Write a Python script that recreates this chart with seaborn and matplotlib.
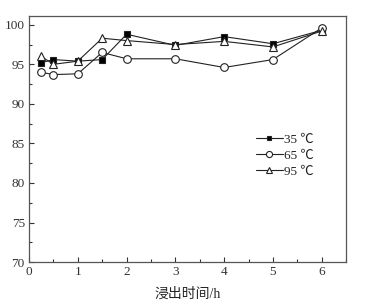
import matplotlib
matplotlib.use("Agg")
import matplotlib.pyplot as plt
import seaborn as sns
import pandas as pd
from matplotlib.ticker import MultipleLocator

times = [0.25, 0.5, 1, 1.5, 2, 3, 4, 5, 6]
t35 = [95.2, 95.6, 95.4, 95.6, 98.8, 97.4, 98.5, 97.6, 99.3]
t65 = [94.0, 93.7, 93.8, 96.5, 95.7, 95.7, 94.6, 95.6, 99.6]
t95 = [96.0, 95.0, 95.4, 98.3, 98.0, 97.5, 97.9, 97.2, 99.2]
labels = ["35 ℃", "65 ℃", "95 ℃"]
xlabel = "浸出时间/h"

sns.set_theme(style="ticks")
plt.rcParams['font.family'] = ['Liberation Serif', 'Noto Sans CJK SC', 'DejaVu Sans']

fig = plt.figure(figsize=(3.77, 3.03), dpi=100)
ax = fig.add_axes([0.077, 0.135, 0.841, 0.812])

series = [(t35, labels[0], 's', 'black', 3.8),
          (t65, labels[1], 'o', 'white', 5.5),
          (t95, labels[2], '^', 'white', 6.0)]
for vals, lab, mk, fc, ms in series:
    df = pd.DataFrame({"t": times, "v": vals})
    sns.lineplot(data=df, x="t", y="v", ax=ax, color="#222222", lw=0.8,
                 marker=mk, markersize=ms, markerfacecolor=fc,
                 markeredgecolor="#222222", markeredgewidth=0.8, label=lab)

ax.set_xlim(0, 6.5)
ax.set_ylim(70, 101.1)
ax.xaxis.set_major_locator(MultipleLocator(1))
ax.xaxis.set_minor_locator(MultipleLocator(0.5))
ax.yaxis.set_major_locator(MultipleLocator(5))
ax.yaxis.set_minor_locator(MultipleLocator(2.5))
ax.tick_params(which='both', direction='in', top=False, right=False,
               labelsize=9.5, colors='#333333', pad=3)
ax.tick_params(which='major', length=3.5, width=0.8)
ax.tick_params(which='minor', length=2, width=0.8)
for s in ax.spines.values():
    s.set_color('#555555')
    s.set_linewidth(0.9)
ax.set_xlabel(xlabel, fontsize=10, color='#222222', labelpad=7)
ax.set_ylabel("")

leg = ax.legend(loc='upper left', bbox_to_anchor=(0.70, 0.545), frameon=False,
                fontsize=9.5, handlelength=2.0, handletextpad=0.1,
                labelspacing=0.3, borderaxespad=0, markerscale=0.8)
for t in leg.get_texts():
    t.set_color('#222222')

fig.savefig("out.png", dpi=100, facecolor='white')
